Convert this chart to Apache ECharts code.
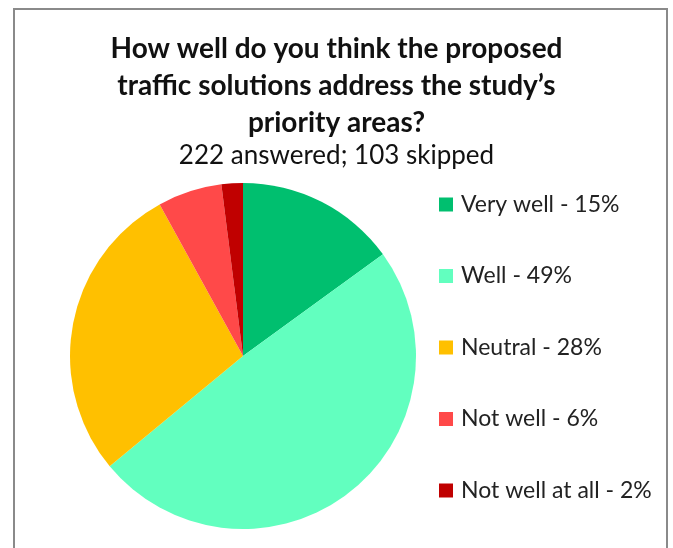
<!DOCTYPE html>
<html>
<head>
<meta charset="utf-8">
<script src="https://cdn.jsdelivr.net/npm/echarts@6/dist/echarts.min.js"></script>
<style>
  html, body { margin: 0; padding: 0; background: #fff; }
  #main { width: 673px; height: 548px; }
</style>
</head>
<body>
<div id="main"></div>
<script>
// survey answers, share of respondents in %
const categories = ["Very well", "Well", "Neutral", "Not well", "Not well at all"];
const shares = [15, 49, 28, 6, 2];
const colors = ["#00bf6f", "#62ffbf", "#ffc000", "#ff4949", "#c00000"];

const titleLines = [
  "How well do you think the proposed",
  "traffic solutions address the study\u2019s",
  "priority areas?"
];
const subtitle = "222 answered; 103 skipped";

const chart = echarts.init(document.getElementById("main"));

chart.setOption({
  backgroundColor: "#fff",
  animation: false,
  title: {
    text: titleLines.join("\n"),
    subtext: subtitle,
    left: "center",
    top: 25,
    itemGap: 1,
    padding: [5, 29, 5, 5], // pushes the centred block a bit to the left
    textStyle: {
      fontFamily: "Lato",
      fontWeight: "bold",
      fontSize: 28,
      lineHeight: 37,
      color: "#111",
    },
    subtextStyle: {
      fontFamily: "Lato",
      fontSize: 26,
      lineHeight: 28,
      color: "#111",
    },
  },
  legend: {
    orient: "vertical",
    left: 434,
    top: 188,
    itemWidth: 14,
    itemHeight: 14,
    itemGap: 48.5,
    icon: "rect",
    textStyle: {
      fontFamily: "Lato",
      fontSize: 23,
      lineHeight: 20,
      color: "#222",
      padding: [0, 0, 0, 3],
    },
    formatter: function (name) {
      const i = categories.indexOf(name);
      return name + " - " + shares[i] + "%";
    },
  },
  graphic: [
    {
      type: "rect",
      shape: { x: 14, y: 9, width: 653, height: 560 },
      style: { fill: null, stroke: "#8a8a8a", lineWidth: 2 },
      silent: true,
    },
  ],
  series: [
    {
      type: "pie",
      center: [243, 356],
      radius: 173,
      startAngle: 90,
      clockwise: true,
      label: { show: false },
      labelLine: { show: false },
      itemStyle: { borderWidth: 0 },
      data: categories.map((c, i) => ({
        name: c,
        value: shares[i],
        itemStyle: { color: colors[i] },
      })),
    },
  ],
});
</script>
</body>
</html>
